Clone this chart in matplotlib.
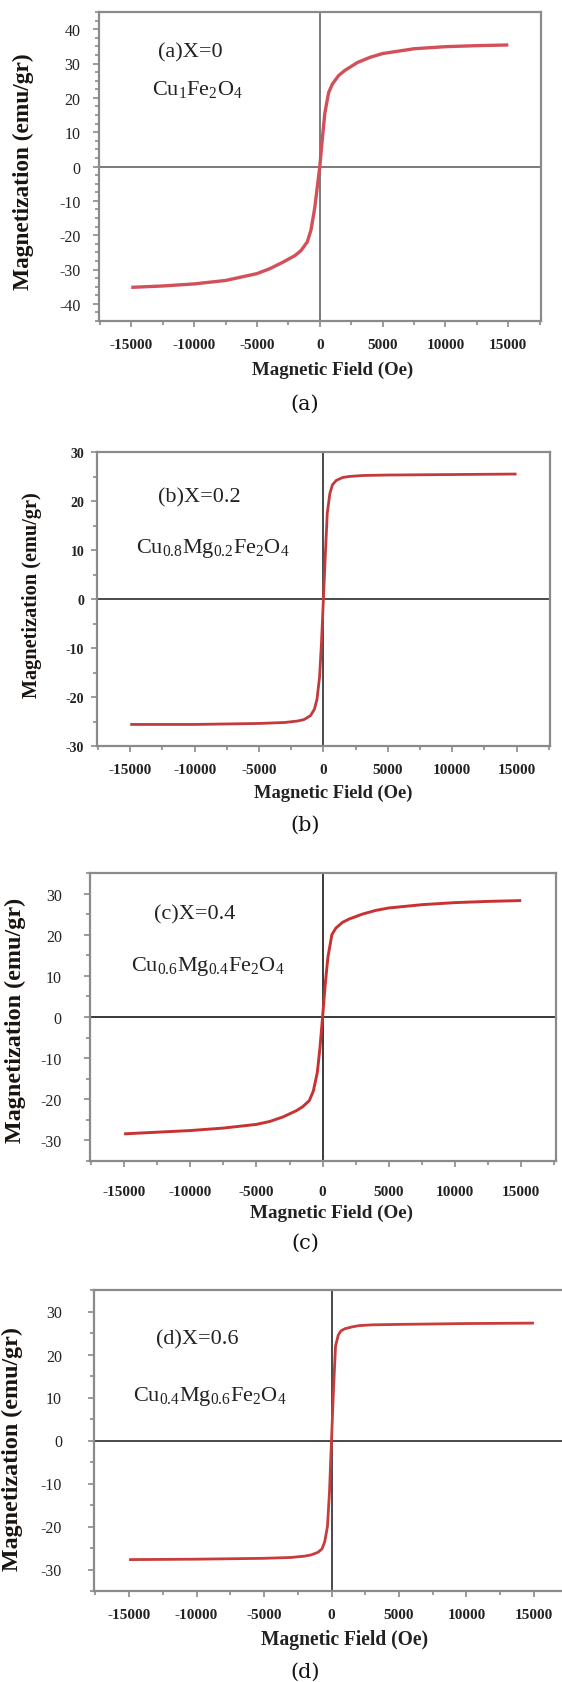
import matplotlib
matplotlib.use('Agg')
import matplotlib.pyplot as plt
from matplotlib.ticker import MultipleLocator

plt.rcParams['font.family'] = ['Liberation Serif', 'DejaVu Serif']
plt.rcParams['mathtext.fontset'] = 'custom'
plt.rcParams['mathtext.rm'] = 'Liberation Serif'
plt.rcParams['mathtext.it'] = 'Liberation Serif:italic'
plt.rcParams['mathtext.bf'] = 'Liberation Serif:bold'
plt.rcParams['axes.unicode_minus'] = False

# ---------------- data ----------------
H_a = [-15000, -12500, -10000, -7500, -5000, -4000, -3000, -2000, -1500, -1000, -700, -400, -200, 0,
       200, 400, 700, 1000, 1500, 2000, 3000, 4000, 5000, 7500, 10000, 12500, 15000]
M_a = [-35.2, -34.8, -34.2, -33.2, -31.2, -29.8, -28.0, -26.0, -24.5, -22.0, -18.5, -12.0, -6.0, 0.0,
       8.0, 15.5, 21.5, 24.0, 26.5, 28.0, 30.3, 31.8, 32.9, 34.3, 34.9, 35.2, 35.4]

H_b = [-15000, -10000, -5000, -3000, -2000, -1500, -1000, -700, -500, -300, -150, 0,
       150, 300, 500, 700, 1000, 1500, 2000, 3000, 5000, 10000, 15000]
M_b = [-25.6, -25.6, -25.4, -25.2, -24.9, -24.6, -23.8, -22.5, -20.5, -16.0, -9.0, 0.0,
       9.0, 17.5, 21.5, 23.3, 24.2, 24.8, 25.0, 25.2, 25.3, 25.4, 25.5]

H_c = [-15000, -12500, -10000, -7500, -5000, -4000, -3000, -2000, -1500, -1000, -700, -400, -200, 0,
       200, 400, 700, 1000, 1500, 2000, 3000, 4000, 5000, 7500, 10000, 12500, 15000]
M_c = [-28.4, -28.0, -27.6, -27.0, -26.1, -25.4, -24.3, -22.8, -21.8, -20.3, -18.0, -13.5, -7.5, 0.0,
       8.0, 14.5, 20.0, 21.6, 23.0, 23.8, 25.0, 25.9, 26.5, 27.3, 27.8, 28.1, 28.3]

H_d = [-15000, -10000, -5000, -3000, -2000, -1500, -1000, -700, -500, -300, -150, 0,
       150, 300, 500, 700, 1000, 1500, 2000, 3000, 5000, 10000, 15000]
M_d = [-27.7, -27.6, -27.4, -27.2, -26.9, -26.6, -26.0, -25.2, -23.5, -20.0, -12.0, 0.0,
       12.0, 22.0, 24.5, 25.5, 26.0, 26.4, 26.7, 26.9, 27.0, 27.2, 27.3]

x_ticks = [-15000, -10000, -5000, 0, 5000, 10000, 15000]
y_ticks_a = [-40, -30, -20, -10, 0, 10, 20, 30, 40]
y_ticks_bcd = [-30, -20, -10, 0, 10, 20, 30]

titles = ['(a)X=0', '(b)X=0.2', '(c)X=0.4', '(d)X=0.6']
formulas = [r'Cu$_{1}$Fe$_{2}$O$_{4}$',
            r'Cu$_{0.8}$Mg$_{0.2}$Fe$_{2}$O$_{4}$',
            r'Cu$_{0.6}$Mg$_{0.4}$Fe$_{2}$O$_{4}$',
            r'Cu$_{0.4}$Mg$_{0.6}$Fe$_{2}$O$_{4}$']
captions = ['(a)', '(b)', '(c)', '(d)']
xlabel = 'Magnetic Field (Oe)'
ylabel = 'Magnetization (emu/gr)'

# ---------------- layout ----------------
W, Hpx = 562, 1683
fig = plt.figure(figsize=(W / 100, Hpx / 100), dpi=100)
fig.patch.set_facecolor('white')
renderer = fig.canvas.get_renderer()


def px(x, y):
    return x / W, 1 - y / Hpx


def make_axes(l, r, t, b):
    return fig.add_axes([l / W, 1 - b / Hpx, (r - l) / W, (b - t) / Hpx])


def fit(txt, target, vertical):
    """Scale the font so that the text spans `target` pixels."""
    for _ in range(3):
        bb = txt.get_window_extent(renderer)
        cur = bb.height if vertical else bb.width
        txt.set_fontsize(txt.get_fontsize() * target / cur)


panels = [
    dict(H=H_a, M=M_a, box=(98.6, 541, 13, 322), ylim=(-45, 45), yt=y_ticks_a, ymin=2.5,
         col='#d2505a', lw=2.4, zc='#7a7a7a', ytl=dict(size=11.5, weight='normal'), ypad=9, xpad=8.5,
         yl=(23, 172, 237), xl=(333, 370, 161), cap=(305, 404), tt=(158, 53), ff=(152, 90)),
    dict(H=H_b, M=M_b, box=(96.8, 550, 453, 747), ylim=(-30, 30), yt=y_ticks_bcd, ymin=5,
         col='#c23a3c', lw=2.0, zc='#4a4a4a', ytl=dict(size=10, weight='bold'), ypad=5, xpad=8,
         yl=(32, 595, 204), xl=(333, 793, 158), cap=(305, 825), tt=(158, 498), ff=(136, 548)),
    dict(H=H_c, M=M_c, box=(89.6, 555.6, 874, 1162), ylim=(-35, 35), yt=y_ticks_bcd, ymin=5,
         col='#c83232', lw=2.1, zc='#3a3a3a', ytl=dict(size=11.5, weight='normal'), ypad=16, xpad=13.5,
         yl=(15, 1020, 245), xl=(331, 1213, 163), cap=(305, 1243), tt=(154, 915), ff=(131, 967)),
    dict(H=H_d, M=M_d, box=(94, 569, 1291, 1592), ylim=(-35, 35), yt=y_ticks_bcd, ymin=5,
         col='#c83c3c', lw=2.0, zc='#4a4a4a', ytl=dict(size=11.5, weight='normal'), ypad=19, xpad=8,
         yl=(12, 1449, 244), xl=(345, 1640, 167), cap=(305, 1672), tt=(156, 1340), ff=(133, 1397)),
]

for i, p in enumerate(panels):
    l, r, t, b = p['box']
    ax = make_axes(l, r, t, b)
    ax.set_xlim(-17600, 17600)
    ax.set_ylim(*p['ylim'])
    ax.axhline(0, color=p['zc'], lw=1.4, zorder=1)
    ax.axvline(0, color=p['zc'], lw=1.4, zorder=1)
    ax.plot(p['H'], p['M'], color=p['col'], lw=p['lw'], solid_capstyle='butt', zorder=3)

    for s in ax.spines.values():
        s.set_color('#8a8a8a')
        s.set_linewidth(1.6)

    ax.set_xticks(x_ticks)
    ax.set_xticklabels([str(v) for v in x_ticks])
    ax.set_yticks(p['yt'])
    ax.set_yticklabels([str(v) for v in p['yt']])
    ax.xaxis.set_minor_locator(MultipleLocator(2500))
    ax.yaxis.set_minor_locator(MultipleLocator(p['ymin']))
    ax.tick_params(axis='both', which='both', direction='out', color='#8a8a8a', width=1.2,
                   top=False, right=False)
    ax.tick_params(axis='both', which='major', length=4)
    ax.tick_params(axis='both', which='minor', length=3)
    ax.tick_params(axis='x', pad=p['xpad'])
    ax.tick_params(axis='y', pad=p['ypad'])
    for lab in ax.get_xticklabels():
        lab.set_fontsize(11)
        lab.set_fontweight('bold')
        lab.set_color('#222222')
    for lab in ax.get_yticklabels():
        lab.set_fontsize(p['ytl']['size'])
        lab.set_fontweight(p['ytl']['weight'])
        lab.set_color('#222222')

    # axis labels
    x, y, L = p['yl']
    t_y = fig.text(*px(x, y), ylabel, rotation=90, ha='center', va='center', fontsize=15,
                   fontweight='bold', color='#1a1410')
    fit(t_y, L, True)
    x, y, L = p['xl']
    t_x = fig.text(*px(x, y), xlabel, ha='center', va='center', fontsize=14,
                   fontweight='bold', color='#222222')
    fit(t_x, L, False)

    # annotations inside the plot
    fig.text(*px(*p['tt']), titles[i], ha='left', va='center', fontsize=16, color='#222222')
    fig.text(*px(*p['ff']), formulas[i], ha='left', va='center', fontsize=16, color='#222222')

    # caption under the panel
    fig.text(*px(*p['cap']), captions[i], ha='center', va='center', fontsize=15,
             family='DejaVu Serif', color='#111111')

fig.savefig('out.png', dpi=100, facecolor='white')
